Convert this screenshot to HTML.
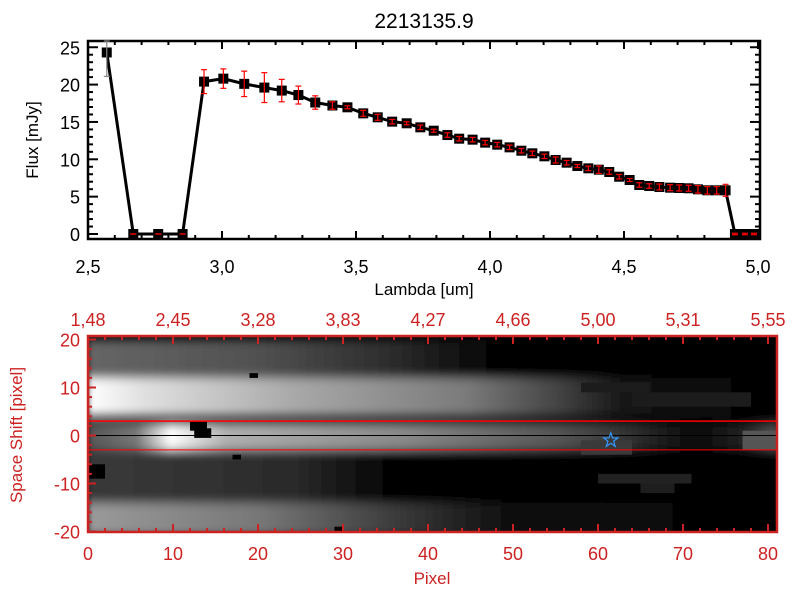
<!DOCTYPE html>
<html><head><meta charset="utf-8"><style>
body{margin:0;background:#fff;}
svg text{font-family:"Liberation Sans",sans-serif;}
</style></head><body>
<svg id="c" width="800" height="600" viewBox="0 0 800 600" xmlns="http://www.w3.org/2000/svg">
<defs>
<filter id="vb" x="-5%" y="-50%" width="110%" height="200%"><feGaussianBlur stdDeviation="3 5"/></filter>
<linearGradient id="gUp" x1="0" x2="1"><stop offset="0" stop-color="#fff"/><stop offset="0.08" stop-color="#e0e0e0"/><stop offset="0.3" stop-color="#a8a8a8"/><stop offset="0.55" stop-color="#7a7a7a"/><stop offset="0.68" stop-color="#444"/><stop offset="0.78" stop-color="#151515"/><stop offset="1" stop-color="#000"/></linearGradient>
<linearGradient id="gMid" x1="0" x2="1"><stop offset="0" stop-color="#555"/><stop offset="0.07" stop-color="#777"/><stop offset="0.12" stop-color="#fff"/><stop offset="0.2" stop-color="#b0b0b0"/><stop offset="0.45" stop-color="#8a8a8a"/><stop offset="0.68" stop-color="#555"/><stop offset="0.78" stop-color="#333"/><stop offset="0.88" stop-color="#080808"/><stop offset="0.95" stop-color="#222"/><stop offset="1" stop-color="#555"/></linearGradient>
<linearGradient id="gBot" x1="0" x2="1"><stop offset="0" stop-color="#9a9a9a"/><stop offset="0.25" stop-color="#777"/><stop offset="0.45" stop-color="#3a3a3a"/><stop offset="0.6" stop-color="#111"/><stop offset="1" stop-color="#000"/></linearGradient>
<linearGradient id="gTop" x1="0" x2="1"><stop offset="0" stop-color="#666"/><stop offset="0.25" stop-color="#505050"/><stop offset="0.45" stop-color="#2a2a2a"/><stop offset="0.6" stop-color="#000"/><stop offset="1" stop-color="#000"/></linearGradient>
<linearGradient id="gDark" x1="0" x2="1"><stop offset="0" stop-color="#3a3a3a"/><stop offset="0.3" stop-color="#2a2a2a"/><stop offset="0.45" stop-color="#000"/><stop offset="1" stop-color="#000"/></linearGradient>
<clipPath id="imgClip"><rect x="88" y="337" width="688" height="195"/></clipPath>
</defs>
<text x="424" y="28" font-size="21" text-anchor="middle" fill="#000">2213135.9</text>
<g id="topPlot"></g>
<g id="botPlot"></g>
</svg>
<script>
const lambda=[2.570,2.669,2.762,2.853,2.933,3.005,3.083,3.158,3.223,3.285,3.348,3.412,3.468,3.527,3.581,3.635,3.689,3.740,3.790,3.841,3.885,3.935,3.982,4.027,4.073,4.117,4.158,4.203,4.245,4.286,4.326,4.367,4.406,4.445,4.482,4.521,4.557,4.594,4.632,4.672,4.706,4.741,4.776,4.811,4.846,4.879,4.914,4.951,4.985];
const flux=[24.3,0,0,0,20.4,20.8,20.1,19.6,19.2,18.6,17.6,17.2,16.96,16.15,15.62,15.04,14.82,14.28,13.83,13.25,12.76,12.63,12.23,11.96,11.6,11.15,10.8,10.4,9.91,9.55,9.1,8.79,8.61,8.3,7.67,7.23,6.56,6.43,6.29,6.2,6.16,6.12,5.98,5.85,5.85,5.85,0,0,0];
const fluxErr=[3.2,0,0,0,1.6,1.3,1.7,2.0,1.5,1.2,0.9,0.5,0.2,0.4,0.4,0.3,0.2,0.3,0.2,0.3,0.3,0.3,0.3,0.3,0.3,0.3,0.3,0.3,0.4,0.3,0.2,0.3,0.5,0.3,0.3,0.2,0.3,0.3,0.4,0.4,0.4,0.4,0.5,0.5,0.5,0.8,0.1,0.1,0.1];
const xTicks=[2.5,3.0,3.5,4.0,4.5,5.0];
const yTicks=[0,5,10,15,20,25];
const pixTicks=[0,10,20,30,40,50,60,70,80];
const waveTicks=["1.48","2.45","3.28","3.83","4.27","4.66","5.00","5.31","5.55"];
const shiftTicks=[20,10,0,-10,-20];
const traceHalfWidth=3;
const starPos=[61.5,-1];

const NS="http://www.w3.org/2000/svg";
function mk(tag,attrs,parent){const e=document.createElementNS(NS,tag);for(const k in attrs)e.setAttribute(k,attrs[k]);parent.appendChild(e);return e;}
const topG=document.getElementById('topPlot'), botG=document.getElementById('botPlot');
const X0=88,X1=760,Y0=239,Y1=41;
const sx=l=>88+(l-2.5)*268;
const sy=v=>234-v*7.47;
mk('rect',{x:X0,y:Y1,width:X1-X0,height:Y0-Y1,fill:'none',stroke:'#000','stroke-width':2.5},topG);
for(let i=0;i<=25;i++){const l=2.5+i*0.1;const x=sx(l);const maj=i%5==0;const len=maj?8:4;
 mk('line',{x1:x,x2:x,y1:Y0,y2:Y0-len,stroke:'#000','stroke-width':2},topG);
 mk('line',{x1:x,x2:x,y1:Y1,y2:Y1+len,stroke:'#000','stroke-width':2},topG);}
for(let v=0;v<=26;v++){const y=sy(v);if(y<Y1)break;const len=v%5==0?10:5;
 mk('line',{x1:X0,x2:X0+len,y1:y,y2:y,stroke:'#000','stroke-width':2},topG);
 mk('line',{x1:X1,x2:X1-len,y1:y,y2:y,stroke:'#000','stroke-width':2},topG);}
xTicks.forEach(t=>{const e=mk('text',{x:sx(t),y:273,'font-size':18,'text-anchor':'middle',fill:'#000'},topG);e.textContent=t.toFixed(1).replace('.',',');

});
yTicks.forEach(t=>{const e=mk('text',{x:80,y:sy(t)+7,'font-size':18,'text-anchor':'end',fill:'#000'},topG);e.textContent=t;

});
let e=mk('text',{x:424,y:295,'font-size':17,'text-anchor':'middle',fill:'#000'},topG);e.textContent='Lambda [um]';


e=mk('text',{x:0,y:0,'font-size':17,'text-anchor':'middle',fill:'#000',transform:'translate(38,140) rotate(-90)'},topG);e.textContent='Flux [mJy]';


let pts=lambda.map((l,i)=>sx(l)+','+Math.max(sy(flux[i]),Y1)).join(' ');
e=mk('polyline',{points:pts,fill:'none',stroke:'#000','stroke-width':3},topG);


lambda.forEach((l,i)=>{const x=sx(l),y=sy(flux[i]);
 const m=mk('rect',{x:x-5,y:y-5,width:10,height:10,fill:'#000'},topG);
 
 
 const y1=Math.max(sy(flux[i]+fluxErr[i]),Y1),y2=sy(flux[i]-fluxErr[i]);
 const col=i==0?'#888':'#ff0000';
 const g=mk('g',{stroke:col,'stroke-width':1.2},topG);
 
 
 mk('line',{x1:x,x2:x,y1:y1,y2:y2},g);mk('line',{x1:x-3,x2:x+3,y1:y1,y2:y1},g);mk('line',{x1:x-3,x2:x+3,y1:y2,y2:y2},g);});
const RED='#cc2222';
const px=p=>88+p*8.5;
const py=s=>435.5-s*4.8;
const img=mk('g',{'clip-path':'url(#imgClip)'},botG);


mk('rect',{x:88,y:335,width:690,height:198,fill:'#000'},img);
const bl=mk('g',{filter:'url(#vb)'},img);
mk('rect',{x:88,y:py(20),width:690,height:py(12)-py(20),fill:'url(#gTop)'},bl);
mk('rect',{x:88,y:py(3),width:690,height:py(-14)-py(3),fill:'url(#gDark)'},bl);
mk('rect',{x:88,y:py(12),width:690,height:py(4)-py(12),fill:'url(#gUp)'},bl);
mk('rect',{x:88,y:py(2.5),width:690,height:py(-3)-py(2.5),fill:'url(#gMid)'},bl);
mk('rect',{x:88,y:py(-14),width:690,height:py(-21)-py(-14),fill:'url(#gBot)'},bl);
[[12,3,2,2],[12.5,1.5,2,2],[19,13,1,1],[17,-4,1,1],[29,-19,1,1],[0,-6,2,3]].forEach(d=>mk('rect',{x:px(d[0]),y:py(d[1]),width:d[2]*8.5,height:d[3]*4.8,fill:'#000'},img));
[[58,-1,6,3,'#3a3a3a'],[77,1,4,4,'#555'],[60,-8,11,2,'#222'],[65,-10,4,2,'#1e1e1e'],[64,9,14,3,'#1c1c1c'],[58,11,8,2,'#1c1c1c']].forEach(d=>mk('rect',{x:px(d[0]),y:py(d[1]),width:d[2]*8.5,height:d[3]*4.8,fill:d[4]},img));
e=mk('line',{x1:88,x2:777,y1:py(traceHalfWidth),y2:py(traceHalfWidth),stroke:'#ff0000','stroke-width':1.5},botG);


e=mk('line',{x1:88,x2:777,y1:py(-traceHalfWidth),y2:py(-traceHalfWidth),stroke:'#ff0000','stroke-width':1},botG);


e=mk('line',{x1:88,x2:777,y1:py(0),y2:py(0),stroke:'#000','stroke-width':1},botG);


{const cx=px(starPos[0]),cy=py(starPos[1]);let p=[];for(let k=0;k<10;k++){const r=k%2?3:7.5;const a=-Math.PI/2+k*Math.PI/5;p.push((cx+r*Math.cos(a)).toFixed(1)+','+(cy+r*Math.sin(a)).toFixed(1));}
e=mk('polygon',{points:p.join(' '),fill:'none',stroke:'#3399ff','stroke-width':1.2},botG);

}
mk('rect',{x:88,y:336,width:689,height:196,fill:'none',stroke:RED,'stroke-width':2.5},botG);
for(let p=0;p<=81;p+=2){const x=px(p);const len=p%10==0?8:4;
 mk('line',{x1:x,x2:x,y1:532,y2:532-len,stroke:RED,'stroke-width':2},botG);
 mk('line',{x1:x,x2:x,y1:336,y2:336+len,stroke:RED,'stroke-width':2},botG);}
for(let s=-20;s<=20;s+=2){const y=py(s);const len=s%10==0?8:4;
 mk('line',{x1:88,x2:88+len,y1:y,y2:y,stroke:RED,'stroke-width':2},botG);}
pixTicks.forEach(t=>{const e=mk('text',{x:px(t),y:560,'font-size':18,'text-anchor':'middle',fill:RED},botG);e.textContent=t;

});
waveTicks.forEach((t,i)=>{const e=mk('text',{x:px(pixTicks[i]),y:326,'font-size':18,'text-anchor':'middle',fill:RED},botG);e.textContent=t.replace('.',',');

});
shiftTicks.forEach(t=>{const e=mk('text',{x:80,y:py(t)+7,'font-size':18,'text-anchor':'end',fill:RED},botG);e.textContent=t;

});
e=mk('text',{x:432,y:584,'font-size':17,'text-anchor':'middle',fill:RED},botG);e.textContent='Pixel';


e=mk('text',{x:0,y:0,'font-size':17,'text-anchor':'middle',fill:RED,transform:'translate(22,435) rotate(-90)'},botG);e.textContent='Space Shift [pixel]';


</script>
</body></html>
